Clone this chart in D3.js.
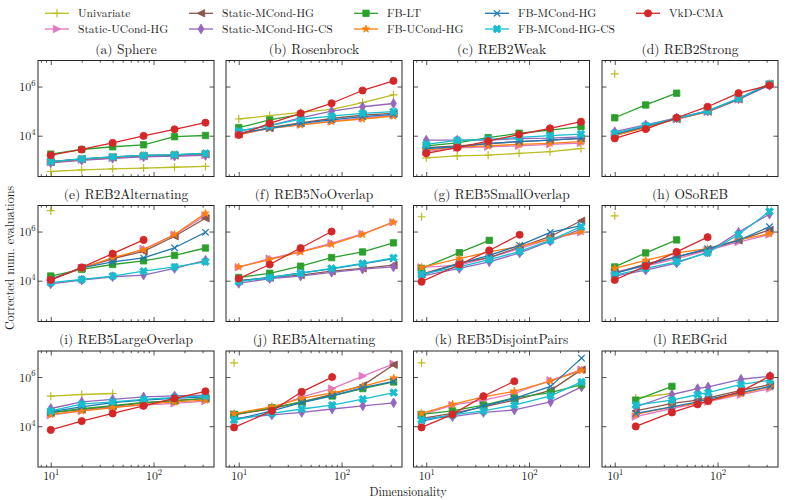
<!DOCTYPE html>
<html><head><meta charset="utf-8">
<script src="https://cdn.jsdelivr.net/npm/d3@7"></script>
<style>body{margin:0;background:#fff}svg{display:block}</style>
</head><body><svg id="c" width="789" height="500"></svg>
<script>
// ---------- data ----------
const seriesNames = ["Univariate","Static-UCond-HG","Static-MCond-HG","Static-MCond-HG-CS","FB-LT","FB-UCond-HG","FB-MCond-HG","FB-MCond-HG-CS","VkD-CMA"];
const seriesColors = ["#bcbd22","#e377c2","#8c564b","#9467bd","#2ca02c","#ff7f0e","#1f77b4","#17becf","#d62728"];
const seriesMarkers = ["+",">","<","d","s","*","x","X","o"];
const panelTitles = ["(a) Sphere","(b) Rosenbrock","(c) REB2Weak","(d) REB2Strong","(e) REB2Alternating","(f) REB5NoOverlap","(g) REB5SmallOverlap","(h) OSoREB","(i) REB5LargeOverlap","(j) REB5Alternating","(k) REB5DisjointPairs","(l) REBGrid"];
const dimsStd = [10,20,40,80,160,320];
const dimsOdd = [9,21,41,81,161,321];
const dimsPairs = [9,18,36,72,162,324];
const dimsGrid = [16,36,64,81,169,324];
const xTickValues = [10,100];
const yTickValues = [1e4,1e6];
const N = null;

const sphere = [
 [350,410,450,480,520,560],
 [830,1050,1230,1410,1510,1620],
 [850,1100,1290,1480,1580,1740],
 [790,1000,1200,1380,1480,1580],
 [1780,2750,3550,4270,9100,10200],
 [870,1120,1350,1550,1660,1820],
 [890,1150,1380,1580,1660,1900],
 [890,1150,1380,1580,1700,1900],
 [1620,2750,5100,9800,18200,33900]];
const rosenbrock = [
 [47900,66000,89000,117000,224000,457000],
 [11200,20000,28200,38000,52500,67600],
 [11700,21400,33100,50100,69200,81300],
 [15500,25700,53700,100000,151000,204000],
 [21400,43700,74100,N,N,N],
 [11200,20000,27500,37200,47900,63100],
 [12600,20000,31600,43700,60300,74100],
 [15500,25700,46800,63100,81300,95500],
 [10700,31600,81300,209000,692000,1700000]];
const reb2Weak = [
 [1260,1510,1620,1910,2240,3020],
 [2240,3240,3550,3890,4470,5010],
 [3240,3890,4680,5750,6610,7760],
 [6610,6610,6610,7590,7940,8910],
 [3890,5130,8320,12600,17000,23400],
 [2570,3550,3890,4470,4900,5750],
 [3020,3550,4900,5750,6610,7760],
 [4470,6460,7080,8510,10000,11700],
 [1910,3240,6030,11200,20000,37200]];
const reb2Strong = [
 [3300000,N,N,N,N,N],
 [10500,22400,46800,93300,295000,1200000],
 [11200,22900,47900,95500,302000,1260000],
 [14500,27500,52500,100000,316000,1120000],
 [53700,178000,537000,N,N,N],
 [10000,21400,47900,95500,316000,1320000],
 [11700,24000,50100,100000,316000,1200000],
 [12600,25700,51300,102000,331000,1290000],
 [7760,18600,53700,151000,537000,1120000]];
const reb2Alternating = [
 [7100000,N,N,N,N,N],
 [10700,33100,75900,195000,741000,4370000],
 [11700,33100,79400,155000,646000,3470000],
 [7410,10700,14500,17000,31600,67600],
 [15500,28800,45700,64600,107000,214000],
 [11200,31600,87100,182000,759000,5500000],
 [11200,33100,58900,85100,219000,933000],
 [8320,11200,15500,24500,36300,58900],
 [10700,34700,126000,457000,N,N]];
const reb5NoOverlap = [
 [N,N,N,N,N,N],
 [35500,79400,151000,339000,813000,2400000],
 [9770,13200,17000,24500,31600,42700],
 [7760,12300,15500,21900,29500,36300],
 [13500,20000,38900,87100,148000,347000],
 [36300,72400,148000,302000,759000,2400000],
 [10000,13500,20900,30200,47900,79400],
 [9120,13500,20000,31600,50100,85100],
 [12300,45700,214000,1000000,N,N]];
const reb5SmallOverlap = [
 [4000000,N,N,N,N,N],
 [34700,42700,87100,200000,501000,933000],
 [18600,52500,87100,234000,631000,2750000],
 [15500,31600,58900,135000,407000,1260000],
 [31600,138000,437000,N,N,N],
 [34700,79400,148000,251000,501000,1000000],
 [17000,50100,107000,275000,933000,1740000],
 [18600,36300,72400,155000,437000,1580000],
 [9120,45700,170000,741000,N,N]];
const osoreb = [
 [4370000,N,N,N,N,N],
 [22900,38900,79400,170000,372000,759000],
 [20000,47900,93300,186000,437000,1170000],
 [15500,26900,52500,145000,933000,5130000],
 [36300,135000,457000,N,N,N],
 [31600,67600,135000,200000,457000,813000],
 [20000,42700,93300,200000,437000,1580000],
 [17000,31600,58900,135000,759000,6610000],
 [10700,38900,148000,589000,N,N]];
const reb5LargeOverlap = [
 [166000,195000,214000,N,N,N],
 [28200,41700,61700,72400,85100,105000],
 [35500,47900,66100,87100,112000,132000],
 [52500,97700,123000,155000,170000,182000],
 [35500,51300,69200,93300,107000,135000],
 [30200,41700,56200,77600,97700,115000],
 [38900,61700,91200,115000,135000,155000],
 [41700,79400,97700,123000,148000,170000],
 [7080,16200,33100,67600,135000,263000]];
const reb5Alternating = [
 [3800000,N,N,N,N,N],
 [30200,52500,155000,339000,1100000,3470000],
 [28800,52500,97700,195000,457000,3160000],
 [20900,28800,36300,50100,67600,89100],
 [30200,56200,97700,170000,339000,631000],
 [32400,61700,135000,229000,417000,912000],
 [18200,41700,91200,170000,372000,661000],
 [18200,33100,50100,72400,126000,234000],
 [8910,41700,251000,1000000,N,N]];
const reb5DisjointPairs = [
 [3800000,N,N,N,N,N],
 [28800,72400,115000,214000,741000,2000000],
 [20900,33100,61700,115000,288000,2000000],
 [20900,24500,36300,45700,97700,398000],
 [30200,41700,72400,141000,234000,490000],
 [33100,77600,155000,263000,676000,1860000],
 [16200,28800,66100,135000,417000,5890000],
 [18200,28800,41700,72400,170000,631000],
 [8910,30200,166000,676000,N,N]];
const rebGrid = [
 [141000,214000,N,N,N,N],
 [24500,52500,85100,100000,191000,339000],
 [41700,85100,115000,141000,288000,490000],
 [61700,195000,339000,398000,813000,1070000],
 [115000,417000,N,N,N,N],
 [30200,61700,85100,105000,214000,398000],
 [33100,61700,97700,126000,234000,417000],
 [72400,115000,195000,234000,501000,741000],
 [9770,36300,77600,105000,263000,1100000]];

const panelDims = [dimsStd,dimsStd,dimsStd,dimsStd,dimsStd,dimsStd,dimsOdd,dimsStd,dimsStd,dimsOdd,dimsPairs,dimsGrid];
const panelData = [sphere,rosenbrock,reb2Weak,reb2Strong,reb2Alternating,reb5NoOverlap,reb5SmallOverlap,osoreb,reb5LargeOverlap,reb5Alternating,reb5DisjointPairs,rebGrid];

// ---------- layout ----------
const FONT = "Latin Modern Roman";
const svg = d3.select("#c");
const colX = [38,226,413.5,602], rowY = [60.5,205.5,351], pw = 176, ph = 116;
const x = d3.scaleLog().domain([Math.pow(10,0.876), Math.pow(10,2.588)]).range([0,pw]);
const y = d3.scaleLog().domain([Math.pow(10,2.34), Math.pow(10,7.06)]).range([ph,0]);
const frameColor = "#262626";
const textColor = "#1a1a1a";

function markerPath(t){
  const p = d3.path();
  if(t==="o"){ p.arc(0,0,3.6,0,2*Math.PI); }
  else if(t==="s"){ p.rect(-3.2,-3.2,6.4,6.4); }
  else if(t===">"){ p.moveTo(3.7,0); p.lineTo(-3.7,-3.7); p.lineTo(-3.7,3.7); p.closePath(); }
  else if(t==="<"){ p.moveTo(-3.7,0); p.lineTo(3.7,-3.7); p.lineTo(3.7,3.7); p.closePath(); }
  else if(t==="d"){ p.moveTo(0,-4.9); p.lineTo(2.9,0); p.lineTo(0,4.9); p.lineTo(-2.9,0); p.closePath(); }
  else if(t==="*"){ const R=4,r=R*0.382; for(let i=0;i<10;i++){ const a=-Math.PI/2+i*Math.PI/5, rr=i%2?r:R; const px=rr*Math.cos(a), py=rr*Math.sin(a); i?p.lineTo(px,py):p.moveTo(px,py);} p.closePath(); }
  else if(t==="+"){ p.moveTo(-4,0); p.lineTo(4,0); p.moveTo(0,-4); p.lineTo(0,4); }
  else if(t==="x"){ p.moveTo(-3.2,-3.2); p.lineTo(3.2,3.2); p.moveTo(-3.2,3.2); p.lineTo(3.2,-3.2); }
  else if(t==="X"){ const L=4.1,w=1.4; const pts=[[-w,-L],[w,-L],[w,-w],[L,-w],[L,w],[w,w],[w,L],[-w,L],[-w,w],[-L,w],[-L,-w],[-w,-w]];
    const c=Math.SQRT1_2; pts.forEach((q,i)=>{const px=(q[0]-q[1])*c, py=(q[0]+q[1])*c; i?p.lineTo(px,py):p.moveTo(px,py);}); p.closePath(); }
  return p.toString();
}
function drawMarker(g, t, color, cx, cy){
  const open = (t==="+"||t==="x");
  g.append("path").attr("d", markerPath(t)).attr("transform",`translate(${cx},${cy})`)
   .attr("fill", open?"none":color).attr("stroke", color).attr("stroke-width", open?1.2:0.8)
   .attr("stroke-linejoin","miter");
}
function txt(sel, size){
  return sel.append("text").attr("font-family",FONT).attr("font-size",size).attr("fill",textColor);
}
function supLabel(sel, exp){
  sel.append("tspan").attr("font-family",FONT).text("10");
  sel.append("tspan").attr("font-family",FONT).attr("dy",-5.3).attr("font-size",8.6).text(exp);
}

panelTitles.forEach((title, k) => {
  const ci = k % 4, ri = Math.floor(k/4);
  const g = svg.append("g").attr("transform",`translate(${colX[ci]},${rowY[ri]})`);
  const dims = panelDims[k], data = panelData[k];

  const minorX = [];
  [1,10,100].forEach(b => { for(let m=2;m<=9;m++){ const v=b*m; if(v>=x.domain()[0] && v<=x.domain()[1]) minorX.push(v);} });
  [[d3.axisBottom, ph],[d3.axisTop, 0]].forEach(([ax, ty]) => {
    g.append("g").attr("transform",`translate(0,${ty})`).call(ax(x).tickValues(minorX).tickSizeInner(-2.2).tickSizeOuter(0).tickFormat(""))
      .call(s => { s.select(".domain").remove(); s.selectAll("line").attr("stroke",frameColor).attr("stroke-width",0.8); });
    g.append("g").attr("transform",`translate(0,${ty})`).call(ax(x).tickValues(xTickValues).tickSizeInner(-4.5).tickSizeOuter(0).tickFormat(""))
      .call(s => { s.select(".domain").remove(); s.selectAll("line").attr("stroke",frameColor).attr("stroke-width",0.8); });
  });
  [[d3.axisLeft, 0],[d3.axisRight, pw]].forEach(([ax, tx]) => {
    g.append("g").attr("transform",`translate(${tx},0)`).call(ax(y).tickValues(yTickValues).tickSizeInner(-4.5).tickSizeOuter(0).tickFormat(""))
      .call(s => { s.select(".domain").remove(); s.selectAll("line").attr("stroke",frameColor).attr("stroke-width",0.8); });
  });

  if (ri === 2) {
    const xa = g.append("g").attr("transform",`translate(0,${ph})`).call(d3.axisBottom(x).tickValues(xTickValues).tickSize(0).tickFormat(""));
    xa.select(".domain").remove();
    xa.selectAll(".tick").each(function(d){
      const t = txt(d3.select(this), 11.9).attr("y",12.8).attr("text-anchor","middle");
      supLabel(t, Math.round(Math.log10(d)));
    });
  }
  if (ci === 0) {
    const ya = g.append("g").call(d3.axisLeft(y).tickValues(yTickValues).tickSize(0).tickFormat(""));
    ya.select(".domain").remove();
    ya.selectAll(".tick").each(function(d){
      const t = txt(d3.select(this), 11.9).attr("x",-2.5).attr("y",4.1).attr("text-anchor","end");
      supLabel(t, Math.round(Math.log10(d)));
    });
  }

  const line = d3.line().defined(d => d.v != null).x(d => x(d.d)).y(d => y(d.v));
  data.forEach((vals, si) => {
    const pts = dims.map((d,i) => ({d, v: vals[i]}));
    const sg = g.append("g");
    sg.append("path").attr("d", line(pts)).attr("fill","none").attr("stroke",seriesColors[si])
      .attr("stroke-width",1.3).attr("stroke-linejoin","round");
    pts.filter(p => p.v != null).forEach(p => drawMarker(sg, seriesMarkers[si], seriesColors[si], x(p.d), y(p.v)));
  });

  g.append("rect").attr("width",pw).attr("height",ph).attr("fill","none").attr("stroke",frameColor).attr("stroke-width",1);
  txt(g, 13.5).attr("x",pw/2).attr("y",-7).attr("text-anchor","middle").text(title);
});

svg.selectAll("g[font-family]").attr("font-family", null);

txt(svg, 11.8).attr("x",408).attr("y",495.5).attr("text-anchor","middle").text("Dimensionality");
txt(svg, 12).attr("transform","translate(13.5,258) rotate(-90)").attr("text-anchor","middle").text("Corrected num. evaluations");

const legColX = [45,189,354,485,636], legRowY = [13.3,29];
seriesNames.forEach((name, i) => {
  const lx = legColX[Math.floor(i/2)], ly = legRowY[i%2];
  const lg = svg.append("g");
  lg.append("line").attr("x1",lx).attr("x2",lx+24).attr("y1",ly).attr("y2",ly).attr("stroke",seriesColors[i]).attr("stroke-width",1.3);
  drawMarker(lg, seriesMarkers[i], seriesColors[i], lx+12, ly);
  txt(lg, 11.5).attr("x",lx+33).attr("y",ly+4).text(name);
});
</script></body></html>
